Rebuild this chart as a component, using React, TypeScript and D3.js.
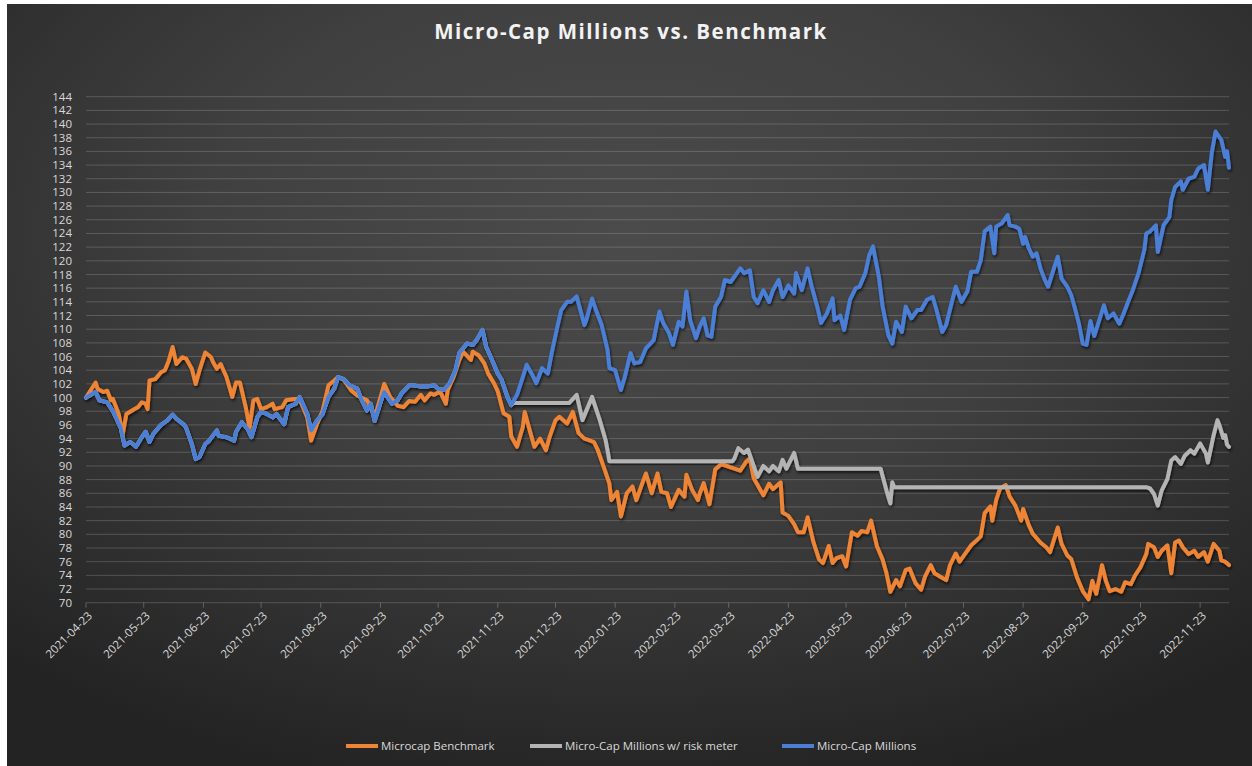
import React from "react";
import * as d3 from "d3";

// ---------- data (day offsets from 2021-04-23) ----------
const START_DATE = "2021-04-23";
const LAST_DAY = 594;

const benchmarkDays = [0,5,6,9,11,13,14,17,19,21,25,27,29,31,32,33,36,39,41,43,45,47,50,52,55,57,59,62,65,66,68,70,73,76,78,80,83,85,87,89,91,94,97,98,102,104,108,111,115,117,120,123,126,129,131,134,138,141,143,146,148,150,153,155,158,162,165,168,171,174,176,179,181,184,187,188,191,194,196,200,201,204,207,209,212,214,217,220,221,224,227,228,231,233,236,239,241,244,246,250,253,256,259,261,264,266,269,272,273,276,278,281,284,286,289,291,294,297,299,302,304,308,311,312,315,318,319,321,324,327,330,332,335,337,340,343,345,347,349,352,355,357,361,362,365,368,370,373,375,378,381,383,386,388,390,393,395,398,401,403,406,408,411,414,416,418,421,423,426,428,431,434,436,439,441,444,447,449,452,454,457,460,462,465,467,470,471,473,475,478,480,483,486,487,490,492,496,499,501,504,505,507,510,512,515,518,521,523,525,528,530,532,535,538,540,543,545,548,551,552,555,557,559,562,564,566,568,570,573,576,578,581,583,586,589,590,592,594];
const benchmarkValues = [100,102.2,101.3,100.8,101,99.6,99.8,97.6,94.5,97.6,98.3,98.6,99.3,99.1,98.3,102.5,102.7,103.7,104,105.4,107.4,104.9,105.9,105.7,104.2,102,104,106.6,105.9,105.2,104.2,104.9,103,100.1,102.2,102.2,98.6,95.6,99.6,99.8,98.3,98.6,99.1,98.3,98.6,99.6,99.8,99.8,97.1,93.7,96.1,98.1,101.8,102.5,103,102.6,101,100.3,100,99.6,98.6,97.1,100,102,100.1,98.8,98.6,99.5,99.4,100.4,99.6,100.6,100.4,100.9,99.1,101.1,103,105.5,106.7,105.5,106.7,106.2,105,103.5,102.1,100.9,97.7,97.2,94.3,92.8,95.7,97.9,94.8,92.8,94,92.3,94.3,96.7,97.2,96.2,97.9,94.8,94,93.8,93.5,92.3,89.9,87.4,85,86.2,82.6,86,87,85,87.4,88.9,86,88.9,86.2,86,84,86.5,85.5,88.7,86.5,85,86,87.5,84.4,89.5,90.2,90.1,89.8,89.6,89.3,90.6,91.1,88.2,87.2,85.7,87.4,86.6,87.6,83.2,82.7,81.5,80.3,80.3,82.5,78.9,76.3,75.8,78.3,75.8,76.5,76.8,75.3,80.3,79.8,80.5,80.3,82,78.3,76.3,74.3,71.6,73.3,72.4,74.8,75,72.9,71.9,73.8,75.5,74.3,73.8,73.3,75.5,77.2,76,77.2,78.4,78.9,79.7,83.1,84.1,82,85,86.7,87.2,85.5,84.2,82,83.7,81.3,80.1,78.8,78.1,77.4,80.1,81,78.6,76.9,76.4,73.7,71.7,70.5,73.2,71.3,75.5,73.2,71.7,72,71.6,73,72.7,73.9,75.2,77.1,78.6,78.1,76.7,77.6,78.4,74.3,78.8,79.1,78.1,77.1,77.6,76.7,77.4,76,78.6,77.6,76.2,76,75.5];

const millionsDays = [0,5,7,11,14,18,20,23,26,29,31,33,35,39,42,45,47,51,52,55,57,59,62,64,68,69,73,77,78,81,84,86,89,91,94,97,99,103,105,109,111,115,117,120,123,126,129,131,134,137,141,143,146,148,150,154,155,159,162,164,168,170,174,177,181,183,186,189,192,194,198,201,203,206,208,211,214,216,219,221,224,227,229,232,234,237,240,242,245,247,250,252,255,259,260,263,265,268,271,272,275,278,280,283,285,288,291,295,298,300,303,305,308,310,312,314,317,319,321,323,325,327,330,332,335,337,340,342,345,347,349,352,355,357,360,362,365,368,369,372,375,377,380,382,385,388,389,392,394,397,400,402,405,407,409,412,414,417,419,421,424,426,429,432,434,437,440,442,445,447,450,452,455,458,460,463,465,467,470,472,473,476,479,480,483,485,487,488,490,492,494,496,498,500,503,505,507,510,512,514,516,518,520,522,524,526,529,531,534,537,539,542,544,547,550,551,553,556,557,560,563,564,566,569,570,573,576,578,581,583,585,587,590,592,593,594];
const millionsValues = [100,100.8,99.6,99.3,98,95.6,93,93.5,92.8,94.2,95,93.5,94.7,96,96.6,97.5,96.9,96,95.6,93.2,91,91.3,93.2,93.7,95.2,94.4,94.2,93.7,95,96.4,95.4,94.2,97.1,97.9,97.6,97.1,97.6,96.1,98.6,99.1,100.1,97.6,95.2,96.6,97.6,100.1,101.3,103,102.7,101.8,101.3,99.8,98.1,99.1,96.6,100.1,100.8,99.1,99.6,100.6,101.8,101.8,101.6,101.6,101.8,101.3,101.1,102.1,104,106.5,107.9,107.7,108.4,109.9,107.4,105.5,103.5,102.6,100.1,98.9,100.4,103,104.8,103.3,102.1,104.3,103.5,106.5,110.4,112.8,114,114,114.8,110.6,111.3,114.5,112.8,110.6,107,104.3,104,101.1,103,106.5,105,105.2,107.2,108.4,112.6,110.9,109.4,107.7,111.1,110.4,115.5,111.3,108.7,110.4,111.6,109.1,108.9,113.3,114.7,117.2,116.9,117.7,118.9,118.2,118.6,114.7,113.8,115.7,114,115.7,117.2,114.7,116.4,115.2,118.2,115.7,118.9,116.4,113.3,110.9,112.3,114.5,111.3,112,109.9,114.3,116,116.2,118.2,120.8,122.1,117.7,113.3,109.1,107.9,111.1,109.6,113.3,111.6,112.8,112.8,114.3,114.7,112.8,109.6,110.6,114,116.2,114,115.5,118.4,118.4,120.1,124.3,125,121.1,125,125.5,126.7,125.2,125,124.7,122.5,123.5,121.8,120.6,121.1,118.9,117.4,116.2,118.9,120.6,117.4,116.2,115,113,110.8,107.9,107.7,111.2,109,110.8,113.5,111.6,112.3,110.8,112.1,114.3,115.7,118.2,121.6,124,124.3,125.2,121.3,125.2,126.4,128.9,130.8,131.6,130.4,132,132.3,133.5,134,130.4,135.7,138.9,137.7,135.2,136,133.6];

// risk-meter series follows Micro-Cap Millions until day 222, then diverges
const RISK_SPLIT_DAY = 222;
const riskMeterDays = [222,251,255,258,263,267,270,271,272,336,337,339,342,344,347,349,352,355,357,360,362,364,368,370,413,414,416,418,419,420,551,553,555,557,559,562,564,566,569,571,574,576,579,582,583,586,588,589,591,592,593,594];
const riskMeterValues = [99.2,99.2,100.4,96.7,100.1,96.7,93.8,92.3,90.7,90.7,91.1,92.6,91.9,92.4,90,88.4,90,89.2,90,89.2,90.9,89.6,91.9,89.6,89.6,88.5,86.4,84.5,87.6,86.9,86.9,86.7,85.9,84.2,86.4,88.1,90.8,91.3,90.3,91.5,92.3,91.8,93.3,91.8,90.5,94.5,96.7,96,94.1,94.5,93.1,92.8];

const seriesNames = ["Microcap Benchmark", "Micro-Cap Millions w/ risk meter", "Micro-Cap Millions"];
const seriesColors = ["#EE8434", "#B4B4B4", "#4B7FD6"];

const yTickValues = [70,72,74,76,78,80,82,84,86,88,90,92,94,96,98,100,102,104,106,108,110,112,114,116,118,120,122,124,126,128,130,132,134,136,138,140,142,144];
const xTickLabels = ["2021-04-23","2021-05-23","2021-06-23","2021-07-23","2021-08-23","2021-09-23","2021-10-23","2021-11-23","2021-12-23","2022-01-23","2022-02-23","2022-03-23","2022-04-23","2022-05-23","2022-06-23","2022-07-23","2022-08-23","2022-09-23","2022-10-23","2022-11-23"];

// ---------- layout ----------
const W = 1252;
const H = 766;
const PLOT = { left: 86, right: 1229, top: 96.7, bottom: 602.7 };
const FONT = "'Open Sans', 'DejaVu Sans', sans-serif";
const TEXT_COLOR = "#d9d9d9";

type Pt = { date: Date; v: number };

export default function App() {
  const parse = d3.timeParse("%Y-%m-%d");
  const start = parse(START_DATE) as Date;
  const x = d3
    .scaleTime()
    .domain([start, d3.timeDay.offset(start, LAST_DAY)])
    .range([PLOT.left, PLOT.right]);
  const y = d3.scaleLinear().domain([70, 144]).range([PLOT.bottom, PLOT.top]);

  const toPts = (days: number[], vals: number[]): Pt[] =>
    days.map((d, i) => ({ date: d3.timeDay.offset(start, d), v: vals[i] }));

  const benchmark = toPts(benchmarkDays, benchmarkValues);
  const millions = toPts(millionsDays, millionsValues);
  const riskEarlyDays = millionsDays.filter((d) => d < RISK_SPLIT_DAY);
  const riskEarlyVals = millionsValues.slice(0, riskEarlyDays.length);
  const risk = toPts([...riskEarlyDays, ...riskMeterDays], [...riskEarlyVals, ...riskMeterValues]);

  const line = d3
    .line<Pt>()
    .x((d) => x(d.date))
    .y((d) => y(d.v))
    .curve(d3.curveLinear);

  const series = [benchmark, risk, millions];
  const xTicks = xTickLabels.map((s) => parse(s) as Date);

  const legendItems = [
    { sx: 346, tx: 381 },
    { sx: 530, tx: 565 },
    { sx: 782, tx: 817 },
  ];

  return (
    <svg
      width={W}
      height={H}
      style={{ position: "absolute", left: 0, top: 0, display: "block" }}
      fontFamily={FONT}
    >
      <defs>
        <radialGradient id="bg" cx="50%" cy="30%" r="75%" fx="50%" fy="30%">
          <stop offset="0%" stopColor="#4b4b4b" />
          <stop offset="45%" stopColor="#404040" />
          <stop offset="100%" stopColor="#232323" />
        </radialGradient>
        <filter id="shadow" x="-5%" y="-5%" width="110%" height="110%">
          <feDropShadow dx="1" dy="2" stdDeviation="1.5" floodColor="#000" floodOpacity="0.7" />
        </filter>
      </defs>
      <rect x={0} y={0} width={W} height={H} fill="#ffffff" />
      <rect x={7} y={4} width={W - 7} height={H - 4} fill="url(#bg)" />

      <text
        x={631}
        y={39}
        textAnchor="middle"
        fontSize={20.5}
        fontWeight={700}
        fill="#f2f2f2"
        letterSpacing={1.5}
      >
        Micro-Cap Millions vs. Benchmark
      </text>

      {/* gridlines */}
      <g>
        {yTickValues.map((t) => (
          <line
            key={t}
            x1={PLOT.left}
            x2={PLOT.right}
            y1={y(t)}
            y2={y(t)}
            stroke="#d9d9d9"
            strokeOpacity={0.22}
            strokeWidth={1}
          />
        ))}
      </g>
      {/* y labels */}
      <g>
        {yTickValues.map((t) => (
          <text
            key={t}
            x={72}
            y={y(t)}
            dy="0.35em"
            textAnchor="end"
            fontSize={11.5}
            fill={TEXT_COLOR}
          >
            {t}
          </text>
        ))}
      </g>
      {/* x axis */}
      <g>
        {xTicks.map((d, i) => (
          <g key={i} transform={`translate(${x(d)},${PLOT.bottom})`}>
            <line y1={0} y2={5} stroke="#d9d9d9" strokeOpacity={0.3} />
            <text
              transform="translate(4,11) rotate(-45)"
              textAnchor="end"
              dy="0.35em"
              fontSize={11.5}
              fill={TEXT_COLOR}
            >
              {xTickLabels[i]}
            </text>
          </g>
        ))}
      </g>

      {/* series */}
      <g filter="url(#shadow)">
        {series.map((s, i) => (
          <path
            key={i}
            d={line(s) || ""}
            fill="none"
            stroke={seriesColors[i]}
            strokeWidth={4}
            strokeLinejoin="round"
            strokeLinecap="round"
          />
        ))}
      </g>

      {/* legend */}
      <g>
        {seriesNames.map((n, i) => (
          <g key={n}>
            <line
              x1={legendItems[i].sx}
              x2={legendItems[i].sx + 32}
              y1={746}
              y2={746}
              stroke={seriesColors[i]}
              strokeWidth={4}
            />
            <text x={legendItems[i].tx} y={746} dy="0.35em" fontSize={11.5} fill={TEXT_COLOR}>
              {n}
            </text>
          </g>
        ))}
      </g>
    </svg>
  );
}
